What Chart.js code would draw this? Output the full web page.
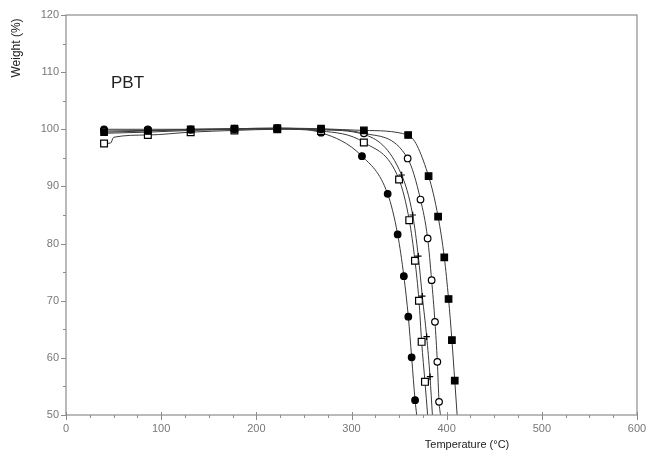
<!DOCTYPE html>
<html><head><meta charset="utf-8">
<script src="https://cdn.jsdelivr.net/npm/chart.js@4/dist/chart.umd.min.js"></script>
<style>html,body{margin:0;padding:0;background:#fff}#wrap{width:654px;height:453px;position:relative}</style>
</head><body><div id="wrap"><canvas id="c" width="654" height="453" style="width:654px;height:453px"></canvas></div>
<script>
// ---- data ----
const xAxisTitle = 'Temperature (°C)';
const yAxisTitle = 'Weight (%)';
const panelLabel = 'PBT';
const xMajorTicks = [0, 100, 200, 300, 400, 500, 600];
const yMajorTicks = [50, 60, 70, 80, 90, 100, 110, 120];

// filled circles
const tFilledCircle = [40, 86, 131, 177, 222, 268, 311, 338, 348.5, 355, 359.7, 363.2, 366.8, 368.5];
const wFilledCircle = [100.0, 100.0, 100.0, 100.1, 100.2, 99.4, 95.3, 88.7, 81.6, 74.3, 67.2, 60.1, 52.6, 50];
const mFilledCircle = [1,1,1,1,1,1,1,1,1,1,1,1,1,0];
// open circles
const tOpenCircle = [40, 86, 131, 177, 222, 268, 313, 359, 372.5, 380, 384.2, 387.7, 390.2, 392, 393.5];
const wOpenCircle = [99.7, 99.8, 99.9, 100.0, 100.1, 100.0, 99.3, 94.9, 87.7, 80.9, 73.6, 66.3, 59.3, 52.3, 50];
const mOpenCircle = [1,1,1,1,1,1,1,1,1,1,1,1,1,1,0];
// open squares
const tOpenSquare = [40, 47, 50, 86, 131, 177, 222, 268, 313, 350, 360.7, 366.7, 370.9, 373.7, 377.2, 380];
const wOpenSquare = [97.5, 97.6, 98.6, 99.0, 99.5, 99.8, 100.0, 99.7, 97.7, 91.2, 84.1, 77.0, 70.0, 62.8, 55.8, 50];
const mOpenSquare = [1,0,0,1,1,1,1,1,1,1,1,1,1,1,1,0];
// crosses
const tCross = [40, 86, 131, 177, 222, 268, 313, 352.7, 364.3, 370.2, 374.4, 379, 382.5, 385];
const wCross = [99.3, 99.5, 99.8, 100.0, 100.1, 99.9, 99.1, 92.0, 85.0, 77.8, 70.8, 63.7, 56.7, 50];
const mCross = [0,0,0,0,0,0,0,1,1,1,1,1,1,0];
// filled squares
const tFilledSquare = [40, 86, 131, 177, 222, 268, 313, 359.5, 381, 391, 397.5, 402, 405.5, 408.5, 411];
const wFilledSquare = [99.5, 99.7, 100.0, 100.1, 100.2, 100.1, 99.8, 99.0, 91.8, 84.7, 77.6, 70.3, 63.1, 56.0, 50];
const mFilledSquare = [1,1,1,1,1,1,1,1,1,1,1,1,1,1,0];

// ---- build ----
function pts(t, w) { return t.map((x, i) => ({x: x, y: w[i]})); }
function ds(t, w, m, style, fill, radius) {
  return {
    data: pts(t, w),
    showLine: true,
    borderColor: '#3a3a3a',
    borderWidth: 1,
    cubicInterpolationMode: 'monotone',
    pointStyle: style,
    pointRadius: ctx => m[ctx.dataIndex] ? radius : 0,
    pointHoverRadius: 0,
    pointBackgroundColor: fill ? '#000' : '#fff',
    pointBorderColor: '#000',
    pointBorderWidth: 1.2,
    clip: 0
  };
}

const frameAndText = {
  id: 'frameAndText',
  afterDraw(chart) {
    const {ctx, chartArea: a, scales: {x, y}} = chart;
    ctx.save();
    ctx.strokeStyle = '#8c8c8c';
    ctx.lineWidth = 1.2;
    ctx.strokeRect(a.left, a.top, a.right - a.left, a.bottom - a.top);
    ctx.lineWidth = 1;
    ctx.beginPath();
    for (let v = 0; v <= 600; v += 25) {
      const px = Math.round(x.getPixelForValue(v)) + 0.5;
      const major = v % 100 === 0;
      ctx.moveTo(px, a.bottom - (major ? 3 : 0));
      ctx.lineTo(px, a.bottom + (major ? 5 : 3));
    }
    for (let v = 50; v <= 120; v += 5) {
      const py = Math.round(y.getPixelForValue(v)) + 0.5;
      const major = v % 10 === 0;
      ctx.moveTo(a.left - (major ? 5 : 3), py);
      ctx.lineTo(a.left, py);
    }
    ctx.stroke();
    ctx.fillStyle = '#222';
    ctx.font = '11px "Liberation Sans", Arial, sans-serif';
    ctx.textAlign = 'center';
    ctx.textBaseline = 'middle';
    ctx.fillText(xAxisTitle, 467, 445);
    ctx.save();
    ctx.translate(17, 48);
    ctx.rotate(-Math.PI / 2);
    ctx.font = '12px "Liberation Sans", Arial, sans-serif';
    ctx.fillText(yAxisTitle, 0, 0);
    ctx.restore();
    ctx.font = '17px "Liberation Sans", Arial, sans-serif';
    ctx.textAlign = 'left';
    ctx.textBaseline = 'alphabetic';
    ctx.fillText(panelLabel, 111, 88);
    ctx.restore();
  }
};

new Chart(document.getElementById('c'), {
  type: 'scatter',
  data: {
    datasets: [
      ds(tFilledSquare, wFilledSquare, mFilledSquare, 'rect', true, 4.6),
      ds(tOpenCircle, wOpenCircle, mOpenCircle, 'circle', false, 3.3),
      ds(tCross, wCross, mCross, 'cross', false, 3.2),
      ds(tOpenSquare, wOpenSquare, mOpenSquare, 'rect', false, 4.8),
      ds(tFilledCircle, wFilledCircle, mFilledCircle, 'circle', true, 3.3)
    ]
  },
  plugins: [frameAndText],
  options: {
    responsive: false,
    animation: false,
    devicePixelRatio: 1,
    layout: {padding: {top: 15, right: 17, left: 0, bottom: 0}},
    plugins: {legend: {display: false}, tooltip: {enabled: false}},
    scales: {
      x: {
        type: 'linear', min: 0, max: 600,
        afterBuildTicks: s => { s.ticks = xMajorTicks.map(v => ({value: v})); },
        afterFit: s => { s.height = 38; },
        grid: {display: false, drawTicks: false, tickLength: 0}, border: {display: false},
        ticks: {color: '#777', padding: 7, font: {size: 11, family: '"Liberation Sans", Arial, sans-serif'}, maxRotation: 0, autoSkip: false}
      },
      y: {
        type: 'linear', min: 50, max: 120,
        afterBuildTicks: s => { s.ticks = yMajorTicks.map(v => ({value: v})); },
        afterFit: s => { s.width = 66; },
        grid: {display: false, drawTicks: false, tickLength: 0}, border: {display: false},
        ticks: {color: '#777', padding: 7, font: {size: 11, family: '"Liberation Sans", Arial, sans-serif'}, autoSkip: false}
      }
    }
  }
});
</script>
</body></html>
